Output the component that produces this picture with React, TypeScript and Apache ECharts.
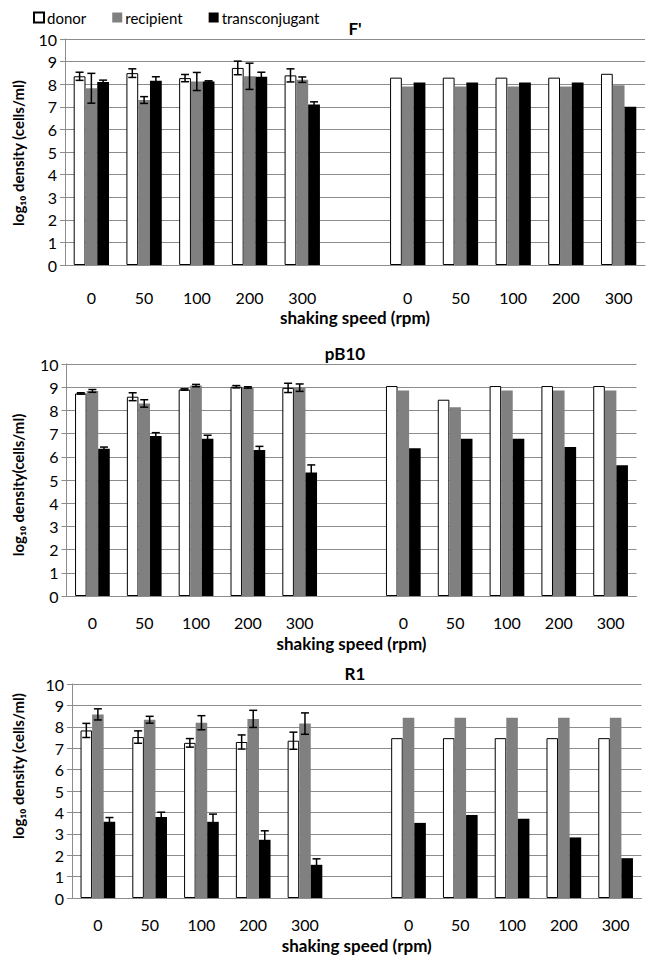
import React, { useEffect, useRef } from 'react';
import * as echarts from 'echarts';

const categories = ['0', '50', '100', '200', '300', '', '0', '50', '100', '200', '300'];
const seriesNames = ['donor', 'recipient', 'transconjugant'];

// F'
const fDonor = [8.35, 8.49, 8.27, 8.72, 8.39];
const fDonorErr = [0.18, 0.19, 0.16, 0.3, 0.29];
const fRecipient = [7.82, 7.3, 8.12, 8.35, 8.2];
const fRecipientErr = [0.66, 0.15, 0.4, 0.58, 0.12];
const fTrans = [8.1, 8.15, 8.12, 8.33, 7.1];
const fTransErr = [0.08, 0.18, 0.03, 0.2, 0.12];
const fDonor2 = [8.29, 8.29, 8.29, 8.29, 8.46];
const fRecipient2 = [7.9, 7.9, 7.9, 7.9, 7.95];
const fTrans2 = [8.07, 8.07, 8.07, 8.07, 7.0];

// pB10
const pDonor = [8.73, 8.59, 8.9, 9.02, 8.97];
const pDonorErr = [0.03, 0.17, 0.03, 0.05, 0.2];
const pRecipient = [8.84, 8.3, 9.07, 8.99, 8.98];
const pRecipientErr = [0.06, 0.16, 0.05, 0.03, 0.16];
const pTrans = [6.35, 6.9, 6.78, 6.29, 5.32];
const pTransErr = [0.07, 0.14, 0.15, 0.16, 0.33];
const pDonor2 = [9.05, 8.46, 9.05, 9.05, 9.05];
const pRecipient2 = [8.86, 8.14, 8.86, 8.86, 8.86];
const pTrans2 = [6.37, 6.78, 6.78, 6.42, 5.64];

// R1
const rDonor = [7.83, 7.52, 7.25, 7.29, 7.35];
const rDonorErr = [0.33, 0.29, 0.2, 0.33, 0.4];
const rRecipient = [8.58, 8.33, 8.19, 8.37, 8.15];
const rRecipientErr = [0.26, 0.16, 0.33, 0.4, 0.5];
const rTrans = [3.56, 3.78, 3.56, 2.72, 1.55];
const rTransErr = [0.2, 0.23, 0.36, 0.42, 0.28];
const rDonor2 = [7.47, 7.47, 7.47, 7.47, 7.47];
const rRecipient2 = [8.42, 8.42, 8.42, 8.42, 8.42];
const rTrans2 = [3.51, 3.88, 3.7, 2.83, 1.86];

const panelTitles = ["F'", 'pB10', 'R1'];
const yTitles = ['log₁₀ density (cells/ml)', 'log₁₀ density(cells/ml)', 'log₁₀ density (cells/ml)'];
const xTitle = 'shaking speed (rpm)';

const FONT = 'Lato, "Open Sans", sans-serif';

const panels = [
  {
    means: [[fDonor, fDonor2], [fRecipient, fRecipient2], [fTrans, fTrans2]],
    errs: [fDonorErr, fRecipientErr, fTransErr],
    grid: { left: 65, top: 39, width: 580, height: 226 },
    labelMargin: 24, nameGap: 44,
    titlePos: [355, 28], yTitlePos: [18, 153],
  },
  {
    means: [[pDonor, pDonor2], [pRecipient, pRecipient2], [pTrans, pTrans2]],
    errs: [pDonorErr, pRecipientErr, pTransErr],
    grid: { left: 66.5, top: 364, width: 570, height: 232 },
    labelMargin: 18, nameGap: 39,
    titlePos: [345, 353], yTitlePos: [18, 485],
  },
  {
    means: [[rDonor, rDonor2], [rRecipient, rRecipient2], [rTrans, rTrans2]],
    errs: [rDonorErr, rRecipientErr, rTransErr],
    grid: { left: 72, top: 684, width: 569.5, height: 214 },
    labelMargin: 18, nameGap: 39,
    titlePos: [355, 673], yTitlePos: [18, 766],
  },
];

const barStyles = [
  { color: '#ffffff', borderColor: '#000000', borderWidth: 1 },
  { color: '#808080' },
  { color: '#000000' },
];

export default function App() {
  const ref = useRef<HTMLDivElement>(null);
  useEffect(() => {
    if (!ref.current) return;
    const chart = echarts.init(ref.current, null, { renderer: 'svg' });
    const grids: any[] = [];
    const xAxes: any[] = [];
    const yAxes: any[] = [];
    const series: any[] = [];
    const graphics: any[] = [];
    panels.forEach((p, pi) => {
      grids.push({ ...p.grid, containLabel: false });
      xAxes.push({
        type: 'category', gridIndex: pi, data: categories,
        axisLine: { lineStyle: { color: '#8c8c8c', width: 1 } },
        axisTick: { show: false },
        axisLabel: { color: '#000', fontSize: 16, fontFamily: FONT, margin: p.labelMargin, interval: 0 },
        name: xTitle, nameLocation: 'middle', nameGap: p.nameGap,
        nameTextStyle: { color: '#000', fontSize: 17, fontWeight: 'bold', fontFamily: FONT },
      });
      yAxes.push({
        type: 'value', gridIndex: pi, min: 0, max: 10, interval: 1,
        axisLine: { show: true, lineStyle: { color: '#8c8c8c', width: 1 } },
        axisTick: { show: true, length: 5, lineStyle: { color: '#8c8c8c' } },
        axisLabel: { color: '#000', fontSize: 16, fontFamily: FONT, margin: 8 },
        splitLine: { lineStyle: { color: '#8c8c8c', width: 1 } },
      });
      seriesNames.forEach((name, si) => {
        const [left, right] = p.means[si];
        series.push({
          type: 'bar', name, xAxisIndex: pi, yAxisIndex: pi,
          data: [...left, '-', ...right],
          barCategoryGap: '33%', barGap: '0%',
          itemStyle: barStyles[si],
          z: 2,
        });
      });
      seriesNames.forEach((name, si) => {
        const left = p.means[si][0];
        const errs = p.errs[si];
        const off = si - 1;
        series.push({
          type: 'custom', name: name + ' error', xAxisIndex: pi, yAxisIndex: pi,
          data: left.map((m, i) => [i, m, errs[i]]),
          z: 5, silent: true,
          renderItem: (params: any, api: any) => {
            const xi = api.value(0), m = api.value(1), e = api.value(2);
            const band = api.size([1, 0])[0];
            const bw = (band * 0.67) / 3;
            const c = api.coord([xi, m]);
            const cx = c[0] + off * bw;
            const hi = api.coord([xi, m + e])[1];
            const lo = api.coord([xi, m - e])[1];
            const cap = 4;
            const st = { stroke: '#000', lineWidth: 1.5 };
            return {
              type: 'group',
              children: [
                { type: 'line', shape: { x1: cx, y1: hi, x2: cx, y2: lo }, style: st },
                { type: 'line', shape: { x1: cx - cap, y1: hi, x2: cx + cap, y2: hi }, style: st },
                { type: 'line', shape: { x1: cx - cap, y1: lo, x2: cx + cap, y2: lo }, style: st },
              ],
            };
          },
        });
      });
      graphics.push({
        type: 'text', x: p.titlePos[0], y: p.titlePos[1],
        style: { text: panelTitles[pi], fill: '#000', font: `bold 17px ${FONT}`, textAlign: 'center', textVerticalAlign: 'middle' },
      });
      graphics.push({
        type: 'text', x: p.yTitlePos[0], y: p.yTitlePos[1], rotation: Math.PI / 2,
        style: { text: yTitles[pi], fill: '#000', font: `bold 15px ${FONT}`, textAlign: 'center', textVerticalAlign: 'middle' },
      });
    });
    chart.setOption({
      animation: false,
      backgroundColor: '#ffffff',
      legend: {
        data: seriesNames, left: 28, top: 5, icon: 'rect', itemWidth: 10, itemHeight: 10, itemGap: 26,
        textStyle: { color: '#000', fontSize: 15, fontFamily: FONT, padding: [0, 0, 0, -2] },
      },
      grid: grids, xAxis: xAxes, yAxis: yAxes, series, graphic: graphics,
    });
    return () => chart.dispose();
  }, []);
  return <div ref={ref} style={{ position: 'fixed', left: 0, top: 0, width: 652, height: 960 }} />;
}
